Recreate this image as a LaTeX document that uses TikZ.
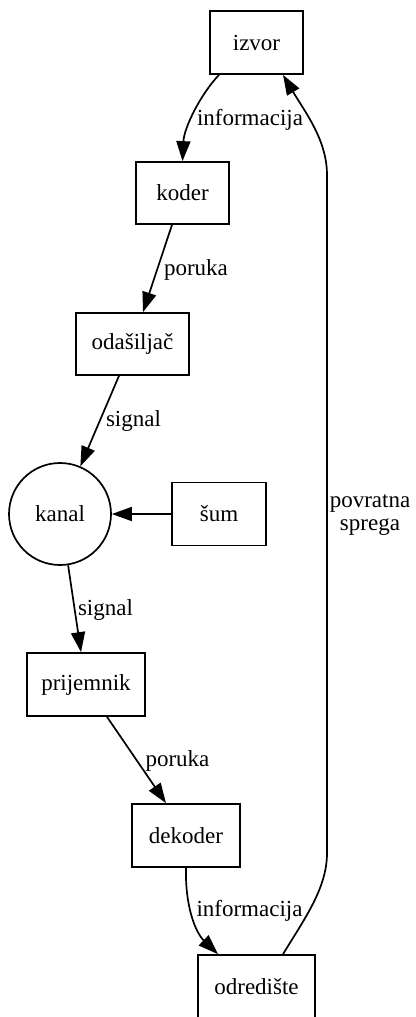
\documentclass[tikz,border=0pt]{standalone}
\usepackage{fontspec}
\setmainfont{Liberation Serif}
\usetikzlibrary{arrows.meta}
\begin{document}
\begin{tikzpicture}[x=1pt,y=-1pt,
  every node/.style={font=\fontsize{23}{27}\selectfont},
  box/.style={draw,line width=1.7pt,rectangle,inner sep=0pt,minimum height=63pt},
  circ/.style={draw,line width=1.7pt,circle,inner sep=0pt,minimum size=102pt},
  lbl/.style={anchor=base,inner sep=0pt},
  edge/.style={line width=1.7pt,-{Triangle[length=20pt,width=14pt]}}]
\useasboundingbox (0,0) rectangle (415,1017);
\node[box,minimum width=93pt] (izvor) at (256.5,42.5) {izvor};
\node[box,minimum width=93pt,minimum height=62pt] (koder) at (182.5,193) {koder};
\node[box,minimum width=113pt,minimum height=62pt] (odasiljac) at (132.5,344) {odašiljač};
\node[circ] (kanal) at (60,514) {kanal};
\node[box,minimum width=94pt] (sum) at (219,514) {šum};
\node[box,minimum width=118pt] (prijemnik) at (86,684.5) {prijemnik};
\node[box,minimum width=108pt] (dekoder) at (186,835.5) {dekoder};
\node[box,minimum width=117pt] (odrediste) at (256.5,986.5) {odredište};
% labels
\node[lbl] (l1) at (250,125) {informacija};
\node[lbl] (l2) at (196,275) {poruka};
\node[lbl] (l3) at (133.5,426) {signal};
\node[lbl] (l4) at (105.5,615) {signal};
\node[lbl] (l5) at (177.5,766) {poruka};
\node[lbl] (l6) at (249.5,916) {informacija};
\node[inner sep=0pt,align=center] (l7) at (370,515) {povratna\\[-4pt]sprega};
% edges
\draw[edge] ([xshift=-37.5pt]izvor.south) .. controls (200,95) and (184,128) .. (koder.north);
\draw[edge] ([xshift=-10.5pt]koder.south) -- ([xshift=10.5pt]odasiljac.north);
\draw[edge] ([xshift=-13.5pt]odasiljac.south) -- (kanal);
\draw[edge] (sum.west) -- (kanal.east);
\draw[edge] (kanal.-81) -- ([xshift=-5pt]prijemnik.north);
\draw[edge] ([xshift=21pt]prijemnik.south) -- ([xshift=-20pt]dekoder.north);
\draw[edge] (dekoder.south) .. controls (185,905) and (195,932) .. ([xshift=-38.5pt]odrediste.north);
\draw[edge] ([xshift=26.5pt]odrediste.north) .. controls (305,918) and (327,888) .. (327,853) -- (327,175) .. controls (327,140) and (305,112) .. ([xshift=26.5pt]izvor.south);
\end{tikzpicture}
\end{document}
